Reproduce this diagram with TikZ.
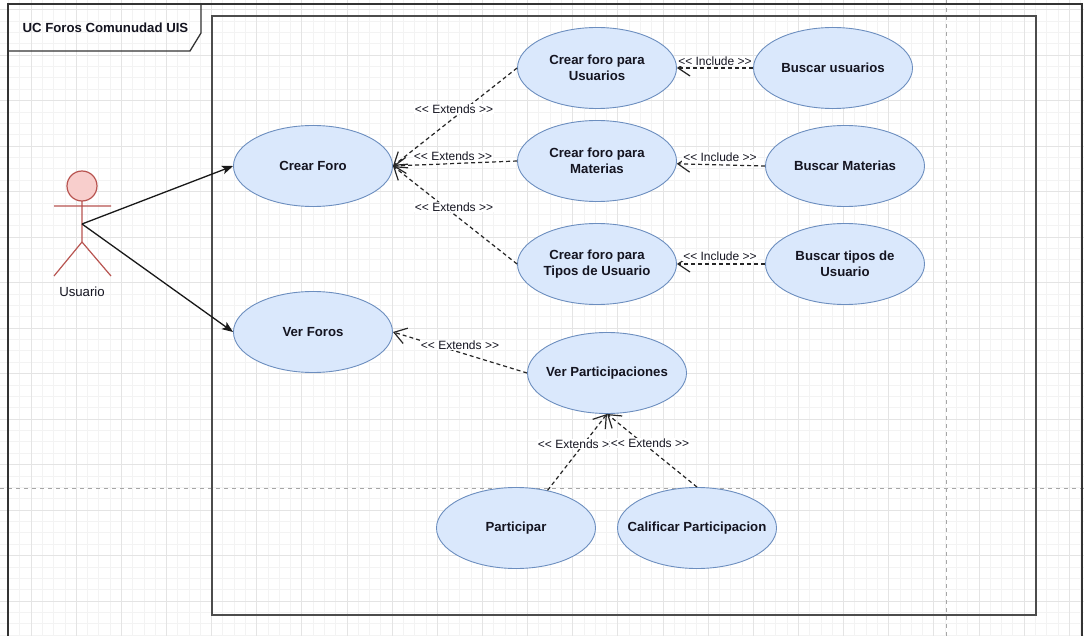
\documentclass[tikz,border=0pt]{standalone}
\usepackage{fontspec}
\setmainfont{Liberation Sans}
\usetikzlibrary{shapes.geometric,arrows.meta}
\definecolor{ucfill}{HTML}{DAE8FC}
\definecolor{ucdraw}{HTML}{6C8EBF}
\definecolor{acfill}{HTML}{F8CECC}
\definecolor{acdraw}{HTML}{B85450}
\definecolor{gminor}{HTML}{F3F3F3}
\definecolor{gmajor}{HTML}{E4E4E4}
\definecolor{txt}{HTML}{141420}
\tikzset{
  uc/.style={ellipse, draw=ucdraw, fill=ucfill, line width=0.9pt, minimum width=159pt, minimum height=81pt, inner xsep=-16pt, inner ysep=0pt, align=center, text=txt, font=\fontsize{13.2}{16}\selectfont\bfseries},
  lbl/.style={fill=white, inner sep=1pt, text=txt, font=\fontsize{12}{14}\selectfont},
  ext/.style={draw=black!85, line width=1.2pt, dash pattern=on 4pt off 3pt, -{Straight Barb[length=12pt,width=16pt,line width=1.2pt]}},
  assoc/.style={draw=black!90, line width=1.3pt, -{Stealth[length=11pt,width=8.5pt,inset=2.5pt]}},
  gridminor/.style={draw=gminor, line width=0.7pt},
  gridmajor/.style={draw=gmajor, line width=0.8pt},
  pagebrk/.style={draw=black!35, line width=0.8pt, dash pattern=on 4pt off 4pt},
}
\begin{document}
\begin{tikzpicture}[x=1pt,y=-1pt]
\useasboundingbox (0,0) rectangle (1084,636);
\clip (0,0) rectangle (1084,636);
\fill[white] (0,0) rectangle (1084,636);
% grid
\foreach \i in {0,...,97} { \draw[gridminor] ({-14.14+\i*11.285},0) -- ++(0,636); }
\foreach \i in {0,...,56} { \draw[gridminor] (0,{-1.875+\i*11.375}) -- ++(1084,0); }
\foreach \i in {0,...,24} { \draw[gridmajor] ({-14.14+\i*45.14},0) -- ++(0,636); }
\foreach \i in {0,...,14} { \draw[gridmajor] (0,{9.5+\i*45.5}) -- ++(1084,0); }
% page breaks
\draw[pagebrk] (946,0) -- (946,636);
\draw[pagebrk] (0,488) -- (1084,488);
% outer frame and tab
\draw[black!80, line width=1.3pt] (8,640) -- (8,4) -- (1082,4) -- (1082,640);
\draw[black!80, line width=1.3pt] (201,4) -- (201,33) -- (190,51) -- (8,51);
\node[anchor=west, text=txt, font=\fontsize{13.2}{16}\selectfont\bfseries] (title) at (19,28) {UC Foros Comunudad UIS};
% system boundary
\draw[black!70, line width=1.8pt] (212,16) rectangle (1036,615);
% actor
\draw[acdraw, line width=1.2pt, fill=acfill] (82,186) circle[radius=15];
\draw[acdraw, line width=1.2pt] (82,201) -- (82,242) (54,206) -- (111,206) (82,242) -- (54,276) (82,242) -- (111,276);
\coordinate (act) at (82,224);
\node[text=txt, font=\fontsize{13.2}{16}\selectfont] (usr) at (82,292) {Usuario};
% use cases
\node[uc] (CF) at (313,166) {Crear Foro};
\node[uc] (VF) at (313,332) {Ver Foros};
\node[uc] (CU) at (597,68) {Crear foro para\\Usuarios};
\node[uc] (CM) at (597,161) {Crear foro para\\Materias};
\node[uc] (CT) at (597,264) {Crear foro para\\Tipos de Usuario};
\node[uc] (BU) at (833,68) {Buscar usuarios};
\node[uc] (BM) at (845,166) {Buscar Materias};
\node[uc] (BT) at (845,264) {Buscar tipos de\\Usuario};
\node[uc] (VP) at (607,373) {Ver Participaciones};
\node[uc] (PA) at (516,528) {Participar};
\node[uc] (CP) at (697,528) {Calificar Participacion};
% associations
\draw[assoc] (act) -- (CF.west);
\draw[assoc] (act) -- (VF.west);
% extends
\draw[ext] (CU.west) -- (CF.east) node[lbl] (l1) at (454,109) {<{}< Extends >{}>};
\draw[ext] (CM.west) -- (CF.east) node[lbl] (l2) at (453,156) {<{}< Extends >{}>};
\draw[ext] (CT.west) -- (CF.east) node[lbl] (l3) at (454,207) {<{}< Extends >{}>};
\draw[ext] (VP.west) -- (VF.east) node[lbl] (l4) at (460,345) {<{}< Extends >{}>};
\draw[ext] (PA.50) -- (VP.south) node[lbl] (l5) at (577,444) {<{}< Extends >{}>};
\draw[ext] (CP.north) -- (VP.south) node[lbl] (l6) at (650,443) {<{}< Extends >{}>};
% includes
\draw[ext] (BU.west) -- (CU.east) node[lbl] (i1) at (715,61) {<{}< Include >{}>};
\draw[ext] (BM.west) -- (CM.-2) node[lbl] (i2) at (720,157) {<{}< Include >{}>};
\draw[ext] (BT.west) -- (CT.east) node[lbl] (i3) at (720,256) {<{}< Include >{}>};
\end{tikzpicture}
\end{document}
